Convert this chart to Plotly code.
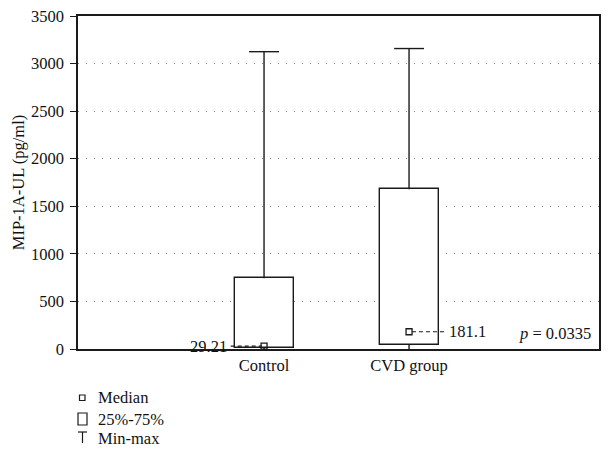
import plotly.graph_objects as go

# ---- data ----
categories = ["Control", "CVD group"]
positions = [1, 2]
mins = [0, 0]
q1 = [10, 42]
medians = [29.21, 181.1]
q3 = [743, 1680]
maxs = [3125, 3158]
median_labels = ["29.21", "181.1"]
y_ticks = [0, 500, 1000, 1500, 2000, 2500, 3000, 3500]
p_text = "<i>p</i> = 0.0335"
legend_labels = ["Median", "25%-75%", "Min-max"]

# ---- style ----
FONT = "Liberation Serif"
FS = 16.5
BOX_W = 0.407
CAP_HW = 0.103
INK = "#1a1a1a"

W, H = 611, 455
PL, PT, PR, PB = 78, 16, 599, 349  # plot area in pixels
L, T, R, B = PL, PT, W - PR, H - PB
PW, PH = PR - PL, PB - PT

def px(xp):
    return (xp - PL) / PW

def py(yp):
    return (PB - yp) / PH

fig = go.Figure()

# boxes
fig.add_trace(go.Bar(
    x=positions, base=q1, y=[b - a for a, b in zip(q1, q3)], width=BOX_W,
    marker=dict(color="white", line=dict(color=INK, width=1.4)),
    hoverinfo="skip", showlegend=False))

# whiskers + caps
wx, wy = [], []
for c, lo, a, b, hi in zip(positions, mins, q1, q3, maxs):
    wx += [c, c, None, c, c, None, c - CAP_HW, c + CAP_HW, None]
    wy += [b, hi, None, lo, a, None, hi, hi, None]
fig.add_trace(go.Scatter(x=wx, y=wy, mode="lines",
                         line=dict(color=INK, width=1.4),
                         hoverinfo="skip", showlegend=False))

# median leader lines
lx, ly = [], []
offs = [(-0.23, -0.015), (0.02, 0.25)]
for c, m, (o1, o2) in zip(positions, medians, offs):
    lx += [c + o1, c + o2, None]
    ly += [m, m, None]
fig.add_trace(go.Scatter(x=lx, y=ly, mode="lines",
                         line=dict(color=INK, width=1.2, dash="4px,3px"),
                         hoverinfo="skip", showlegend=False))

# medians
fig.add_trace(go.Scatter(x=positions, y=medians, mode="markers",
                         marker=dict(symbol="square-open", size=6, color=INK,
                                     line=dict(width=1.3)),
                         hoverinfo="skip", showlegend=False))

# median labels
fig.add_annotation(x=positions[0] - 0.25, y=medians[0], text=median_labels[0],
                   showarrow=False, xanchor="right", yanchor="middle", borderpad=0,
                   font=dict(family=FONT, size=FS, color="#111"))
fig.add_annotation(x=positions[1] + 0.27, y=medians[1], text=median_labels[1],
                   showarrow=False, xanchor="left", yanchor="middle", borderpad=0,
                   font=dict(family=FONT, size=FS, color="#111"))

# p value
fig.add_annotation(x=px(593), y=py(333), xref="paper", yref="paper", text=p_text,
                   showarrow=False, xanchor="right", yanchor="middle",
                   font=dict(family=FONT, size=FS, color="#111"))

# legend (custom)
leg_y = [398, 419, 438]
for lab, yy in zip(legend_labels, leg_y):
    fig.add_annotation(x=px(96), y=py(yy), xref="paper", yref="paper", text=lab,
                       showarrow=False, xanchor="left", yanchor="middle",
                       font=dict(family=FONT, size=FS, color="#111"))
shapes = []
shapes.append(dict(type="rect", xref="paper", yref="paper",
                   x0=px(79.5), x1=px(85), y0=py(400.5), y1=py(395),
                   line=dict(color=INK, width=1.2)))
shapes.append(dict(type="rect", xref="paper", yref="paper",
                   x0=px(78), x1=px(87), y0=py(425), y1=py(413),
                   line=dict(color=INK, width=1.2)))
shapes.append(dict(type="line", xref="paper", yref="paper",
                   x0=px(78), x1=px(87), y0=py(432), y1=py(432),
                   line=dict(color=INK, width=1.2)))
shapes.append(dict(type="line", xref="paper", yref="paper",
                   x0=px(82.5), x1=px(82.5), y0=py(432), y1=py(443),
                   line=dict(color=INK, width=1.2)))
fig.update_layout(shapes=shapes)

fig.update_layout(
    width=W, height=H,
    margin=dict(l=L, r=R, t=T, b=B, autoexpand=False),
    paper_bgcolor="white", plot_bgcolor="white",
    font=dict(family=FONT, size=FS, color="#111"),
    bargap=0,
    xaxis=dict(range=[-0.283, 3.31], tickvals=positions, ticktext=categories,
               showgrid=False, zeroline=False, showline=True, linecolor=INK,
               linewidth=1.5, mirror=True, ticks="", tickfont=dict(size=FS),
               automargin=False),
    yaxis=dict(range=[0, 3500], tickvals=y_ticks, showgrid=True,
               gridcolor="#8a8a8a", griddash="1px,7px", gridwidth=1,
               zeroline=False, showline=True, linecolor=INK, linewidth=1.5,
               mirror=True, ticks="outside", ticklen=6, tickcolor=INK,
               tickwidth=1.3, ticklabelstandoff=3, automargin=False,
               ticklabeloverflow="allow",
               title=dict(text="MIP-1A-UL (pg/ml)", font=dict(size=FS), standoff=2),
               tickfont=dict(size=FS)),
)

fig.write_html("out.html", config={"displayModeBar": False},
               post_script="document.body.style.margin='0';")
